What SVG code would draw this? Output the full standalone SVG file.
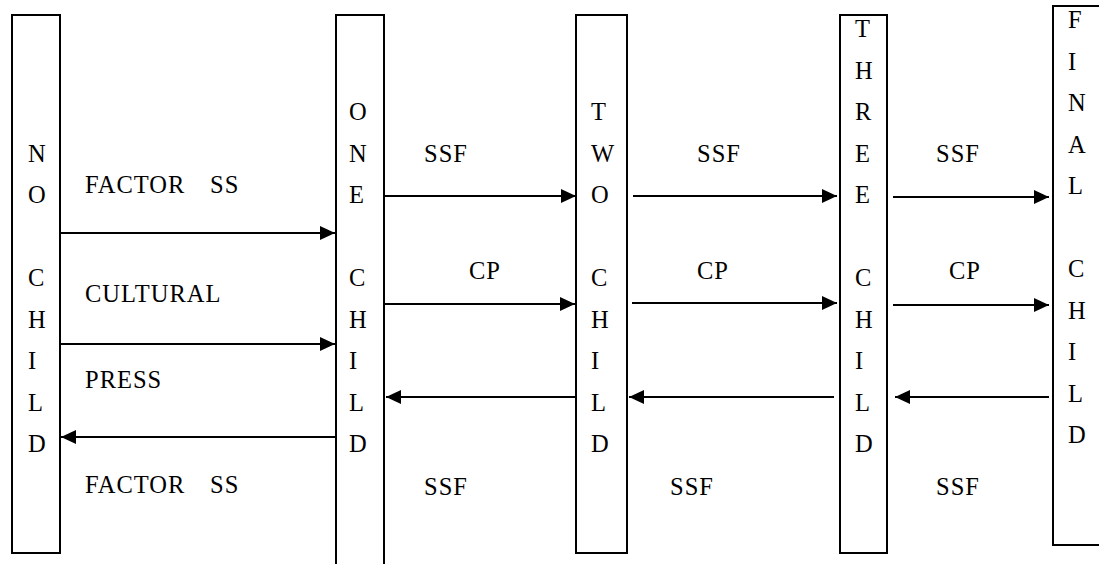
<svg xmlns="http://www.w3.org/2000/svg" width="1099" height="564" viewBox="0 0 1099 564">
<style>
.box{fill:#fff;stroke:#000;stroke-width:2}
.t{font-family:"Liberation Serif","Times New Roman",serif;font-size:24.5px;fill:#000}
.lbl{letter-spacing:1px}
.c{stroke:#000;stroke-width:2;fill:none;marker-end:url(#ah)}
</style>
<defs>
<marker id="ah" markerUnits="userSpaceOnUse" markerWidth="16" markerHeight="14" refX="15" refY="7" orient="auto">
<path d="M0,0 L15,7 L0,14 Z" fill="#000"/>
</marker>
</defs>
<rect width="1099" height="564" fill="#fff"/>
<g id="connectors">
<line class="c" x1="59" y1="233" x2="335" y2="233"/>
<line class="c" x1="59" y1="344" x2="335" y2="344"/>
<line class="c" x1="336" y1="437" x2="61" y2="437"/>
<line class="c" x1="385" y1="196" x2="576" y2="196"/>
<line class="c" x1="382" y1="304" x2="575" y2="304"/>
<line class="c" x1="578" y1="397" x2="386" y2="397"/>
<line class="c" x1="633" y1="196" x2="837" y2="196"/>
<line class="c" x1="632" y1="303" x2="837" y2="303"/>
<line class="c" x1="834" y1="397" x2="629" y2="397"/>
<line class="c" x1="893" y1="197" x2="1049" y2="197"/>
<line class="c" x1="893" y1="305" x2="1049" y2="305"/>
<line class="c" x1="1049" y1="397" x2="895" y2="397"/>
</g>
<g id="labels" class="t lbl">
<text x="85" y="193">FACTOR<tspan x="210">SS</tspan></text>
<text x="85" y="302">CULTURAL</text>
<text x="85" y="388">PRESS</text>
<text x="85" y="493">FACTOR<tspan x="210">SS</tspan></text>
<text x="424" y="161.5">SSF</text>
<text x="697" y="161.5">SSF</text>
<text x="936" y="161.5">SSF</text>
<text x="469" y="279">CP</text>
<text x="697" y="279">CP</text>
<text x="949" y="279">CP</text>
<text x="424" y="495">SSF</text>
<text x="670" y="495">SSF</text>
<text x="936" y="495">SSF</text>
</g>
<g id="node-no-child">
<rect class="box" x="12" y="15" width="48" height="538"/>
<g class="t">
<text x="28" y="161.5">N</text><text x="28" y="203">O</text>
<text x="28" y="286">C</text><text x="28" y="327.5">H</text><text x="28" y="369">I</text><text x="28" y="410.5">L</text><text x="28" y="452">D</text>
</g>
</g>
<g id="node-one-child">
<rect class="box" x="336" y="15" width="48" height="560"/>
<g class="t">
<text x="349" y="120">O</text><text x="349" y="161.5">N</text><text x="349" y="203">E</text>
<text x="349" y="286">C</text><text x="349" y="327.5">H</text><text x="349" y="369">I</text><text x="349" y="410.5">L</text><text x="349" y="452">D</text>
</g>
</g>
<g id="node-two-child">
<rect class="box" x="576" y="15" width="51" height="538"/>
<g class="t">
<text x="591" y="120">T</text><text x="591" y="161.5">W</text><text x="591" y="203">O</text>
<text x="591" y="286">C</text><text x="591" y="327.5">H</text><text x="591" y="369">I</text><text x="591" y="410.5">L</text><text x="591" y="452">D</text>
</g>
</g>
<g id="node-three-child">
<rect class="box" x="840" y="15" width="47" height="538"/>
<g class="t">
<text x="855" y="37">T</text><text x="855" y="78.5">H</text><text x="855" y="120">R</text><text x="855" y="161.5">E</text><text x="855" y="203">E</text>
<text x="855" y="286">C</text><text x="855" y="327.5">H</text><text x="855" y="369">I</text><text x="855" y="410.5">L</text><text x="855" y="452">D</text>
</g>
</g>
<g id="node-final-child">
<rect class="box" x="1053" y="6" width="60" height="539"/>
<g class="t">
<text x="1068" y="28">F</text><text x="1068" y="69.5">I</text><text x="1068" y="111">N</text><text x="1068" y="152.5">A</text><text x="1068" y="194">L</text>
<text x="1068" y="277">C</text><text x="1068" y="318.5">H</text><text x="1068" y="360">I</text><text x="1068" y="401.5">L</text><text x="1068" y="443">D</text>
</g>
</g>
</svg>
